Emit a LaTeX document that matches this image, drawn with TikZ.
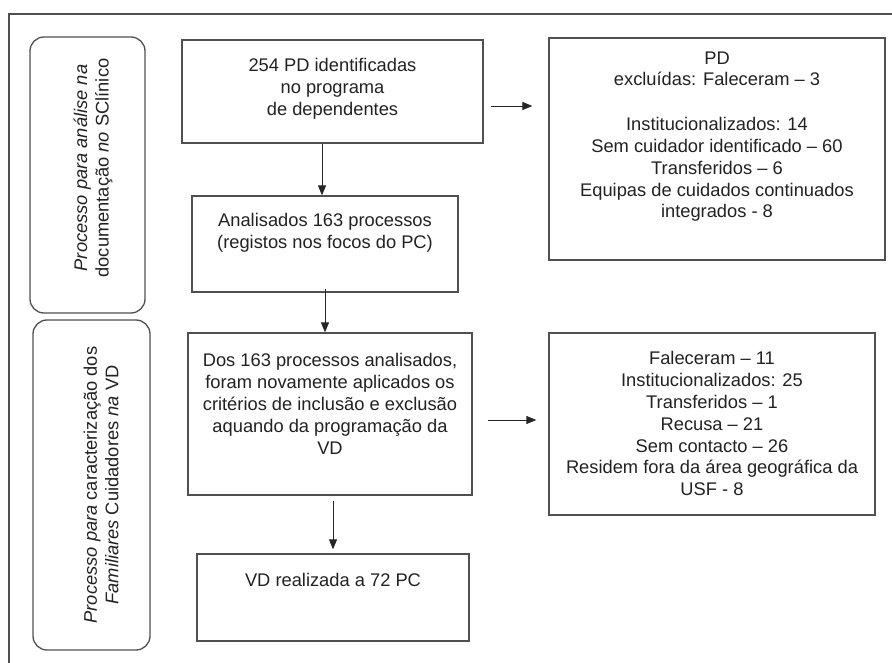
\documentclass[tikz,border=0pt]{standalone}
\usepackage{fontspec}
\setmainfont{Liberation Sans}
\usetikzlibrary{arrows.meta,calc}
\definecolor{txtc}{HTML}{222222}
\definecolor{linec}{HTML}{505050}
\tikzset{
  box/.style={draw=linec, line width=1.3pt, inner sep=0pt},
  rbox/.style={draw=linec, line width=1.3pt, rounded corners=14pt, inner sep=0pt},
  txt/.style={anchor=north, inner sep=0pt, align=center, text=txtc,
    font=\fontsize{18.3}{21.8}\selectfont},
  side/.style={rotate=90, inner sep=0pt, align=center, text=txtc,
    font=\fontsize{18.3}{21.5}\selectfont},
  arr/.style={draw=black!85, line width=0.9pt, -{Triangle[length=10pt,width=8pt]}},
}
\begin{document}
\begin{tikzpicture}[x=1pt,y=-1pt]
\useasboundingbox (0,0) rectangle (892,663);
\fill[white] (0,0) rectangle (892,663);
% outer frame (top and left only)
\draw[linec, line width=1.3pt] (892,14) -- (9,14) -- (9,663);

% side panels
\node[rbox, minimum width=115pt, minimum height=276pt] (L1) at (87.5,175) {};
\node[side] (L1t) at (93,168) {\textit{Processo para análise na}\\documentação \textit{no} SClínico};
\node[rbox, minimum width=117pt, minimum height=330pt] (L2) at (91.5,485) {};
\node[side] (L2t) at (101,485) {\textit{Processo para} caracterização dos\\\textit{Familiares} Cuidadores \textit{na} VD};

% main boxes
\node[box, minimum width=301pt, minimum height=103pt] (A) at (332.5,91.5) {};
\node[txt] (At) at ($(A.north)+(0,19)$) {254 PD identificadas\\no programa\\de dependentes};

\node[box, minimum width=266pt, minimum height=96pt] (B) at (325,244) {};
\node[txt] (Bt) at ($(B.north)+(0,17.5)$) {Analisados 163 processos\\(registos nos focos do PC)};

\node[box, minimum width=284pt, minimum height=162pt] (C) at (330,414) {};
\node[txt] (Ct) at ($(C.north)+(0,21)$) {Dos 163 processos analisados,\\foram novamente aplicados os\\critérios de inclusão e exclusão\\aquando da programação da\\VD};

\node[box, minimum width=272pt, minimum height=87pt] (D) at (333,597.5) {};
\node[txt] (Dt) at ($(D.north)+(0,20)$) {VD realizada a 72 PC};

% right boxes
\node[box, minimum width=336pt, minimum height=222pt] (R1) at (717,149) {};
\node[txt] (R1t) at ($(R1.north)+(0,14)$) {PD\\excluídas: Faleceram – 3\\[23pt]Institucionalizados: 14\\Sem cuidador identificado – 60\\Transferidos – 6\\Equipas de cuidados continuados\\integrados - 8};

\node[box, minimum width=326pt, minimum height=182pt] (R2) at (712,424) {};
\node[txt] (R2t) at ($(R2.north)+(0,19)$) {Faleceram – 11\\Institucionalizados: 25\\Transferidos – 1\\Recusa – 21\\Sem contacto – 26\\Residem fora da área geográfica da\\USF - 8};

% connectors
\draw[arr] ([xshift=-3pt]B.north |- A.south) -- ([xshift=-3pt]B.north);
\draw[arr, shorten <=-4pt] (B.south) -- (B.south |- C.north);
\draw[arr, shorten <=5pt, shorten >=4pt] (D.north |- C.south) -- (D.north);
\draw[arr, shorten <=7pt, shorten >=16pt] ([yshift=-14.5pt]A.east) -- ([yshift=-14.5pt]A.east -| R1.west);
\draw[arr, shorten <=15pt, shorten >=12pt] ([yshift=-6pt]C.east) -- ([yshift=-6pt]C.east -| R2.west);
\end{tikzpicture}
\end{document}
